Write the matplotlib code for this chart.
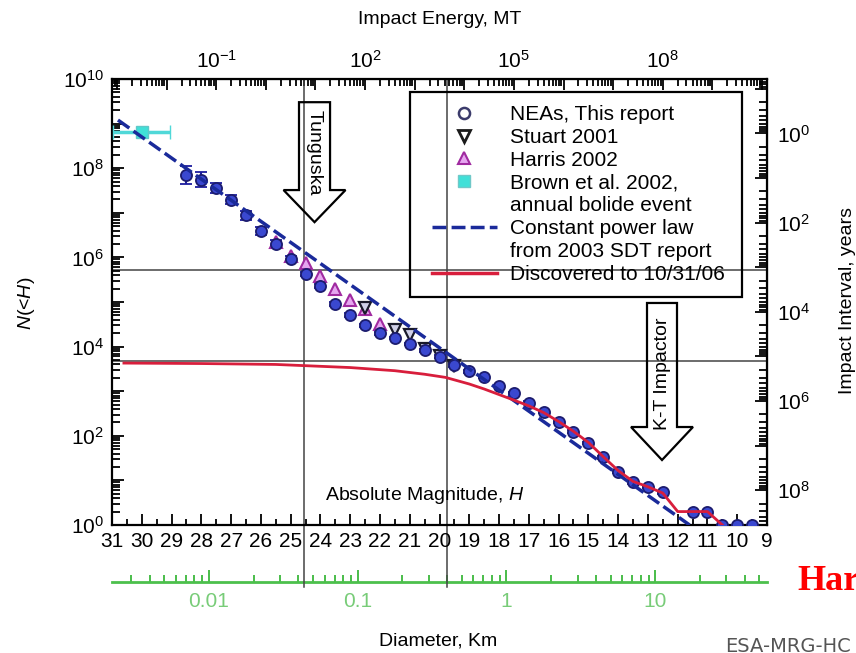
import numpy as np
import matplotlib
matplotlib.use("Agg")
import matplotlib.pyplot as plt
from matplotlib.lines import Line2D
from matplotlib.patches import Polygon, Rectangle

plt.rcParams["font.family"] = ["Liberation Sans", "DejaVu Sans"]
plt.rcParams["mathtext.fontset"] = "custom"
plt.rcParams["mathtext.rm"] = "Liberation Sans"
plt.rcParams["mathtext.it"] = "Liberation Sans:italic"
plt.rcParams["mathtext.default"] = "regular"

# NEAs, this report (H, cumulative number, error in dex)
nea_h = [28.5, 28.0, 27.5, 27.0, 26.5, 26.0, 25.5, 25.0, 24.5, 24.0, 23.5, 23.0,
         22.5, 22.0, 21.5, 21.0, 20.5, 20.0, 19.5, 19.0, 18.5, 18.0, 17.5, 17.0,
         16.5, 16.0, 15.5, 15.0, 14.5, 14.0, 13.5, 13.0, 12.5, 11.5, 11.0, 10.5,
         10.0, 9.5]
nea_n = [7.1e7, 5.5e7, 3.6e7, 1.95e7, 8.9e6, 3.9e6, 2.0e6, 9.3e5, 4.3e5, 2.3e5,
         8.9e4, 5.1e4, 3.0e4, 2.0e4, 1.55e4, 1.15e4, 8.3e3, 5.9e3, 3.8e3, 2.8e3,
         2.1e3, 1.3e3, 910, 550, 340, 204, 123, 69, 33, 15.5, 9.1, 7.1, 5.4, 2,
         2, 1, 1, 1]
nea_err = [0.2, 0.17, 0.12, 0.1, 0.1, 0.1, 0.1, 0.06, 0.05, 0.05, 0.04, 0.04,
           0.03, 0.03, 0.03, 0.03, 0.03, 0.03, 0.03, 0.03, 0.03, 0.03, 0.03, 0.03,
           0.03, 0.03, 0.03, 0.03, 0.03, 0.03, 0.03, 0.03, 0.03, 0, 0, 0, 0, 0]

# Stuart 2001
stuart_h = [22.5, 21.5, 21.0, 20.5, 20.0, 19.5]
stuart_n = [7.4e4, 2.3e4, 1.8e4, 8.9e3, 6.3e3, 3.6e3]

# Harris 2002
harris_h = [25.5, 25.0, 24.5, 24.0, 23.5, 23.0, 22.5, 22.0]
harris_n = [2.2e6, 1.05e6, 7.4e5, 3.8e5, 2.0e5, 1.1e5, 7.1e4, 3.2e4]

# Brown et al. 2002, annual bolide event
brown_h = [30.0]
brown_n = [6.5e8]
brown_herr = [0.95]

# constant power law from 2003 SDT report
law_h = [30.8, 11.6]
law_n = [1.2e9, 1.0]

# discovered to 10/31/06
disc_h = [30.6, 28.0, 25.5, 23.0, 21.5, 20.5, 19.8, 19.0, 18.5, 17.5, 17.0, 16.5,
          16.0, 15.5, 15.0, 14.5, 14.0, 13.5, 13.0, 12.5, 12.0, 11.0, 10.5]
disc_n = [4.27e3, 4.17e3, 3.98e3, 3.39e3, 2.88e3, 2.40e3, 2.04e3, 1.45e3, 1.12e3,
          631, 468, 331, 209, 126, 71, 34, 16.6, 9.5, 7.2, 5.2, 2, 2, 1]

# reference lines
ref_h = [24.55, 19.75]
ref_n = [5.2e5, 4.8e3]

# conversions for the other axes
E_OFF = 15.5      # log10(E, MT) = E_OFF - 0.6 H
D_OFF = 3.55      # log10(D, km) = D_OFF - 0.2 H
T_OFF = 10 ** 8.78  # interval, years = T_OFF / N


def h_to_e(h):
    return 10 ** (E_OFF - 0.6 * np.asarray(h, float))


def e_to_h(e):
    return (E_OFF - np.log10(np.maximum(np.asarray(e, float), 1e-300))) / 0.6


def h_to_d(h):
    return 10 ** (D_OFF - 0.2 * np.asarray(h, float))


def d_to_h(d):
    return (D_OFF - np.log10(np.maximum(np.asarray(d, float), 1e-300))) / 0.2


def n_to_t(n):
    return T_OFF / np.maximum(np.asarray(n, float), 1e-300)


def pow_label(k):
    return r"$10^{%d}$" % k


def block_arrow(ax, xc, y_top, y_neck, y_tip, half_shaft, half_head):
    verts = [(xc - half_shaft, y_top), (xc + half_shaft, y_top), (xc + half_shaft, y_neck),
             (xc + half_head, y_neck), (xc, y_tip), (xc - half_head, y_neck),
             (xc - half_shaft, y_neck)]
    ax.add_patch(Polygon(verts, closed=True, transform=ax.transAxes, fill=False,
                         ec="black", lw=1.6, zorder=6))


fig = plt.figure(figsize=(8.56, 6.53), dpi=100)
ax = fig.add_axes([112 / 856, 128 / 653, 655 / 856, 446 / 653])
ax.set_yscale("log")
ax.set_xlim(31, 9)
ax.set_ylim(1, 1e10)

# grid / reference lines
for n in ref_n:
    ax.axhline(n, color="#444444", lw=1.1, zorder=1)
for h in ref_h:
    ax.plot([h, h], [-0.14, 1], transform=ax.get_xaxis_transform(), color="#444444",
            lw=1.1, clip_on=False, zorder=1)

# data
lo = [n - n * 10 ** (-e) for n, e in zip(nea_n, nea_err)]
hi = [n * 10 ** e - n for n, e in zip(nea_n, nea_err)]
ax.errorbar(nea_h, nea_n, yerr=[lo, hi], fmt="o", ms=8, mfc="#3a48d0", mec="#1c1c6e",
            mew=1.3, ecolor="#1c1c9e", elinewidth=1.5, capsize=4, zorder=3)
ax.plot(harris_h, harris_n, "^", ms=9, mfc="#e6a6f0", mec="#a02aa0", mew=1.5, zorder=3)
ax.plot(stuart_h, stuart_n, "v", ms=8, mfc="#d0d0e8", mec="#1a1a2a", mew=1.6, zorder=3)
ax.errorbar(brown_h, brown_n, xerr=brown_herr, fmt="s", ms=8, mfc="#40e0d8",
            mec="#60c8c8", ecolor="#50d8d8", elinewidth=2.5, capsize=5, zorder=3)
ax.plot(law_h, law_n, color="#1a2a9a", lw=2.5, dashes=[4, 1.5], zorder=4)
ax.plot(disc_h, disc_n, color="#d81e3c", lw=2, zorder=5)

# main axes ticks
ax.set_xticks(range(9, 32), [str(v) for v in range(9, 32)])
ax.set_xticks(np.arange(9.5, 31, 1), minor=True)
ax.set_yticks([10.0 ** k for k in range(11)],
              [pow_label(k) if k % 2 == 0 else "" for k in range(11)])
ax.set_yticks([m * 10.0 ** k for k in range(10) for m in range(2, 10)], minor=True)
ax.yaxis.set_minor_formatter(plt.NullFormatter())
ax.tick_params(axis="both", which="both", direction="in", top=False, right=False,
               labelsize=15, width=1.3, colors="black")
ax.tick_params(axis="x", which="major", length=8, pad=5)
ax.tick_params(axis="x", which="minor", length=4.5)
ax.tick_params(axis="y", which="major", length=8.5, pad=6)
ax.tick_params(axis="y", which="minor", length=5.5)
for sp in ax.spines.values():
    sp.set_linewidth(1.6)

# top axis: impact energy
top = ax.secondary_xaxis("top", functions=(h_to_e, e_to_h))
top.set_xticks([10.0 ** k for k in range(-3, 11)],
               [pow_label(k) if k in (-1, 2, 5, 8) else "" for k in range(-3, 11)])
top.set_xticks([m * 10.0 ** k for k in range(-4, 11) for m in range(2, 10)
                if 10 ** -3.1 < m * 10.0 ** k < 10 ** 10.1], minor=True)
top.tick_params(axis="x", which="both", direction="in", labelsize=15, width=1.3, pad=5)
top.tick_params(axis="x", which="major", length=8)
top.tick_params(axis="x", which="minor", length=5)

# right axis: impact interval
right = ax.secondary_yaxis("right", functions=(n_to_t, n_to_t))
right.set_yticks([10.0 ** k for k in range(-1, 9)],
                 [pow_label(k) if k % 2 == 0 else "" for k in range(-1, 9)])
right.set_yticks([m * 10.0 ** k for k in range(-2, 9) for m in range(2, 10)
                  if 10 ** -1.22 < m * 10.0 ** k < 10 ** 8.78], minor=True)
right.tick_params(axis="y", which="both", direction="in", labelsize=15, width=1.3, pad=7)
right.tick_params(axis="y", which="major", length=8.5)
right.tick_params(axis="y", which="minor", length=5.5)

# green diameter axis below
green = ax.secondary_xaxis(-0.128, functions=(h_to_d, d_to_h))
green.set_xticks([0.01, 0.1, 1, 10], ["0.01", "0.1", "1", "10"])
green.set_xticks([m * 10.0 ** k for k in range(-3, 2) for m in range(2, 10)
                  if 0.0023 < m * 10.0 ** k < 55], minor=True)
green.tick_params(axis="x", which="both", direction="in", colors="#3cb83c",
                  labelcolor="#78cc78", labelsize=15, width=1.3, pad=7)
green.tick_params(axis="x", which="major", length=9)
green.tick_params(axis="x", which="minor", length=5)
for sp in green.spines.values():
    sp.set_color("#4cc04c")
    sp.set_linewidth(2)

# arrows
block_arrow(ax, 0.3092, 0.948, 0.751, 0.679, 0.0237, 0.0473)
ax.text(0.3092, 0.834, "Tunguska", transform=ax.transAxes, rotation=270,
        ha="center", va="center", fontsize=14, zorder=7)
block_arrow(ax, 0.8397, 0.4978, 0.2197, 0.1457, 0.0229, 0.0473)
ax.text(0.8397, 0.3386, "K-T Impactor", transform=ax.transAxes, rotation=90,
        ha="center", va="center", fontsize=14, zorder=7)

ax.text(0.325, 0.067, "Absolute Magnitude, $\\it{H}$", transform=ax.transAxes,
        ha="left", va="center", fontsize=14)

# legend (frame drawn separately so the lines show through it)
blank = Line2D([], [], ls="none")
handles = [
    Line2D([], [], ls="none", marker="o", ms=8, mfc="none", mec="#3b3b6b", mew=1.8),
    Line2D([], [], ls="none", marker="v", ms=8, mfc="none", mec="#1a1a1a", mew=2),
    Line2D([], [], ls="none", marker="^", ms=9, mfc="#e6a6f0", mec="#a02aa0", mew=1.5),
    Line2D([], [], ls="none", marker="s", ms=9, mfc="#40e0d8", mec="#70c8c8", mew=1),
    blank,
    Line2D([], [], color="#1a2a9a", lw=2.5, dashes=[4, 1.5]),
    blank,
    Line2D([], [], color="#d81e3c", lw=2.5),
]
labels = ["NEAs, This report", "Stuart 2001", "Harris 2002",
          "Brown et al. 2002,", "annual bolide event",
          "Constant power law", "from 2003 SDT report", "Discovered to 10/31/06"]
leg = ax.legend(handles, labels, loc="upper left",
                bbox_to_anchor=(432 / 856, 1 - 105 / 653),
                bbox_transform=fig.transFigure, borderaxespad=0, borderpad=0,
                fontsize=15, labelspacing=0.185, handlelength=3.1, handletextpad=0.63,
                frameon=False, numpoints=1)
fig.add_artist(Rectangle((410 / 856, 1 - 297 / 653), 332 / 856, 205 / 653,
                         transform=fig.transFigure, fill=False, ec="black", lw=1.6))

# axis titles
fig.text(440 / 856, 1 - 19 / 653, "Impact Energy, MT", ha="center", va="center", fontsize=14)
fig.text(438 / 856, 1 - 641 / 653, "Diameter, Km", ha="center", va="center", fontsize=14)
fig.text(27 / 856, 1 - 303 / 653, "$\\it{N}$(<$\\it{H}$)", rotation=90,
         ha="center", va="center", fontsize=14)
fig.text(848 / 856, 1 - 300 / 653, "Impact Interval, years", rotation=90,
         ha="center", va="center", fontsize=14)

fig.text(797 / 856, 1 - 582 / 653, "Harris", color="red", family="Liberation Serif",
         weight="bold", fontsize=26, ha="left", va="center")
fig.text(725 / 856, 1 - 637 / 653, "ESA-MRG-HC", color="#555555", family="DejaVu Sans",
         fontsize=14, ha="left", va="top")

fig.savefig("out.png", dpi=100)
